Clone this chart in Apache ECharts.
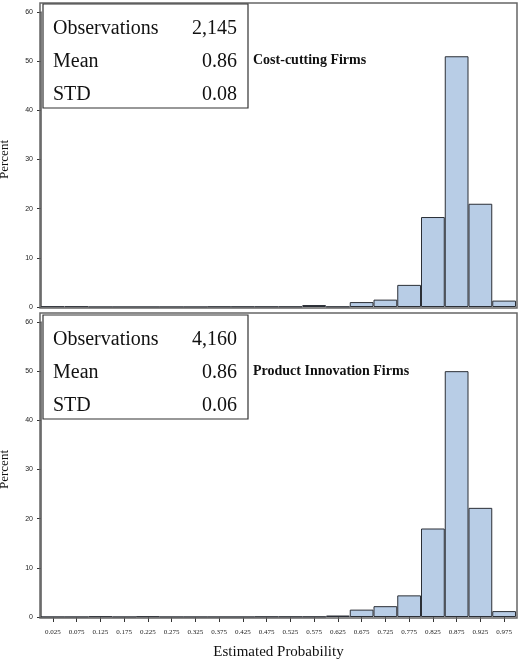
<!DOCTYPE html>
<html lang="en">
<head>
    <meta charset="UTF-8">
    <title>Histograms</title>
    <script src="https://cdn.jsdelivr.net/npm/echarts@6/dist/echarts.min.js"></script>
    <style>
        * { margin: 0; padding: 0; }
        #main { width: 520px; height: 659px; background: #fff; }
    </style>
</head>
<body>
    <div id="main"></div>
    <script>
        var bins = ['0.025', '0.075', '0.125', '0.175', '0.225', '0.275', '0.325', '0.375', '0.425', '0.475',
            '0.525', '0.575', '0.625', '0.675', '0.725', '0.775', '0.825', '0.875', '0.925', '0.975'];
        var costCutting = [0.1, 0.1, 0, 0, 0, 0, 0, 0.05, 0.05, 0.05, 0.05, 0.4, 0.05, 1.0, 1.5, 4.5, 18.3, 51, 21, 1.3];
        var productInnovation = [0, 0, 0.1, 0, 0.1, 0, 0, 0, 0, 0.05, 0.05, 0.05, 0.3, 1.5, 2.2, 4.4, 18, 50, 22.2, 1.2];
        var yTicks = [0, 10, 20, 30, 40, 50, 60];
        var statsTop = [['Observations', '2,145'], ['Mean', '0.86'], ['STD', '0.08']];
        var statsBottom = [['Observations', '4,160'], ['Mean', '0.86'], ['STD', '0.06']];

        var serif = 'Liberation Serif';
        var chart = echarts.init(document.getElementById('main'));

        function xAxis(idx, showLabels) {
            return {
                type: 'category', gridIndex: idx, data: bins, boundaryGap: true,
                axisLine: { show: false },
                axisTick: { show: showLabels, alignWithLabel: true, length: 5, lineStyle: { color: '#333' } },
                axisLabel: { show: showLabels, interval: 0, fontSize: 7, color: '#222', margin: 12, fontFamily: serif },
                name: showLabels ? 'Estimated Probability' : '', nameLocation: 'middle', nameGap: 28,
                nameTextStyle: { fontFamily: serif, fontSize: 15, color: '#111' }
            };
        }
        function yAxis(idx) {
            return {
                type: 'value', gridIndex: idx, min: 0, max: yTicks[yTicks.length - 1], interval: 10,
                splitLine: { show: false },
                axisLine: { show: true, lineStyle: { color: '#555', width: 1.5 } },
                axisTick: { show: true, length: 4, lineStyle: { color: '#333' } },
                axisLabel: { fontSize: 7, color: '#222', margin: 8 },
                name: 'Percent', nameLocation: 'middle', nameGap: 30,
                nameTextStyle: { fontFamily: serif, fontSize: 13, color: '#111' }
            };
        }
        function series(idx, data) {
            return {
                type: 'bar', xAxisIndex: idx, yAxisIndex: idx, data: data, barCategoryGap: 0,
                itemStyle: { color: '#b8cde6', borderColor: '#2b2f36', borderWidth: 1 }
            };
        }
        function statBox(top, stats, label) {
            var els = [{
                type: 'rect', shape: { x: 43, y: top, width: 205, height: 104 },
                style: { fill: '#fff', stroke: '#333', lineWidth: 1.2 }, z: 10
            }];
            stats.forEach(function (s, i) {
                var y = top + 25 + i * 33;
                els.push({ type: 'text', x: 53, y: y, z: 11,
                    style: { text: s[0], font: '20px ' + serif, fill: '#111', verticalAlign: 'middle' } });
                els.push({ type: 'text', x: 237, y: y, z: 11,
                    style: { text: s[1], font: '20px ' + serif, fill: '#111', align: 'right', verticalAlign: 'middle' } });
            });
            els.push({ type: 'text', x: 253, y: top + 56, z: 11,
                style: { text: label, font: 'bold 14px ' + serif, fill: '#111', verticalAlign: 'middle' } });
            return els;
        }

        var option = {
            animation: false,
            grid: [
                { left: 41, right: 4, top: 12, height: 295, containLabel: false, outerBoundsMode: 'none' },
                { left: 41, right: 4, top: 322, height: 295, containLabel: false, outerBoundsMode: 'none' }
            ],
            xAxis: [xAxis(0, false), xAxis(1, true)],
            yAxis: [yAxis(0), yAxis(1)],
            series: [series(0, costCutting), series(1, productInnovation)],
            graphic: [
                { type: 'rect', shape: { x: 40, y: 3, width: 477, height: 305 }, style: { fill: null, stroke: '#666', lineWidth: 1.5 }, z: 5 },
                { type: 'rect', shape: { x: 40, y: 313, width: 477, height: 305 }, style: { fill: null, stroke: '#666', lineWidth: 1.5 }, z: 5 }
            ].concat(statBox(4, statsTop, 'Cost-cutting Firms'), statBox(315, statsBottom, 'Product Innovation Firms'))
        };
        chart.setOption(option);
    </script>
</body>
</html>
